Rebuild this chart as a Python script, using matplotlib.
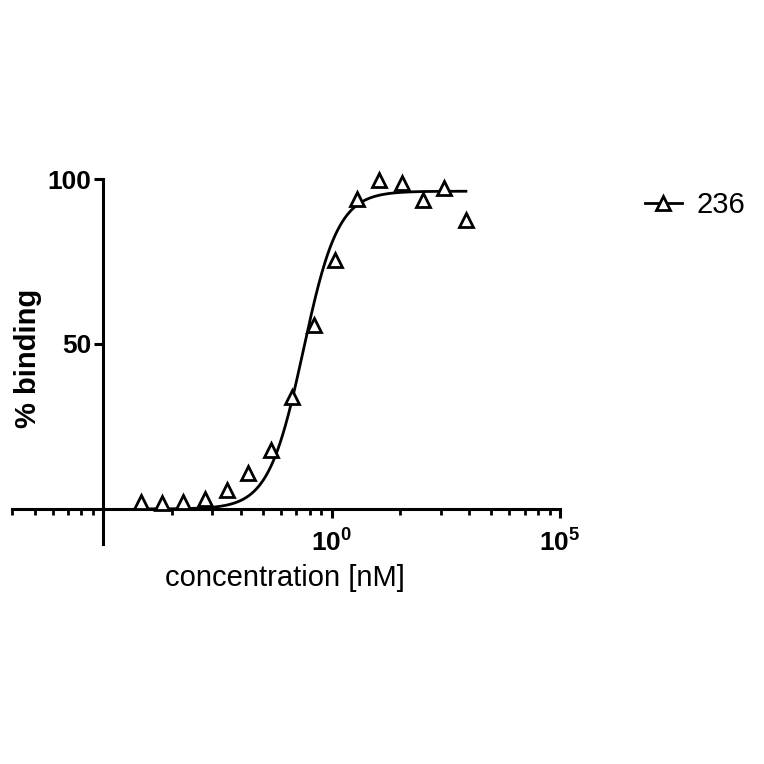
import numpy as np
import matplotlib
matplotlib.use("Agg")
import matplotlib.pyplot as plt
from matplotlib.lines import Line2D
from matplotlib.ticker import FixedLocator, FixedFormatter

plt.rcParams['font.family'] = ['Liberation Sans', 'DejaVu Sans']
plt.rcParams['mathtext.fontset'] = 'custom'
plt.rcParams['mathtext.rm'] = 'Liberation Sans:bold'
plt.rcParams['mathtext.bf'] = 'Liberation Sans:bold'

# concentration in nM, % binding
conc = [6.8e-5, 1.9e-4, 5.5e-4, 1.7e-3, 5.1e-3, 1.45e-2, 4.6e-2, 0.135,
        0.41, 1.2, 3.6, 11.0, 34.0, 100.0, 290.0, 870.0]
binding = [2.2, 1.9, 2.2, 2.9, 5.8, 10.8, 17.9, 34.0,
           55.8, 75.5, 93.8, 99.7, 98.7, 93.6, 97.2, 87.6]
series_name = "236"

# fitted 4PL curve parameters
fit_bottom = 0.0
fit_top = 96.3
fit_logec50 = -0.62
fit_hill = 1.14

logx = np.log10(conc)
xs = np.linspace(logx.min(), logx.max(), 400)
ys = fit_bottom + (fit_top - fit_bottom) / (1 + 10 ** ((fit_logec50 - xs) * fit_hill))

fig = plt.figure(figsize=(7.64, 7.64), dpi=100)
ax = fig.add_axes([0.0157, 0.2885, 0.7173, 0.4772])

mk = dict(marker='^', ms=10, mfc='white', mec='black', mew=2.0)
ax.plot(xs, ys, color='black', lw=2.0, zorder=2)
ax.plot(logx, binding, linestyle='none', zorder=3, clip_on=False, **mk)

ax.set_xlim(-7, 5)
ax.set_ylim(-10.5, 100)

for s in ['top', 'right']:
    ax.spines[s].set_visible(False)
ax.spines['left'].set_position(('data', -5))
ax.spines['bottom'].set_position(('data', 0))
ax.spines['left'].set_linewidth(2.2)
ax.spines['bottom'].set_linewidth(2.2)

# x: log(concentration) on a linear axis, majors every 5 decades, log-style minors
ax.xaxis.set_major_locator(FixedLocator([-5, 0, 5]))
ax.xaxis.set_major_formatter(FixedFormatter(['', r'$10^{0}$', r'$10^{5}$']))
minors = []
for m in [-10, -5, 0]:
    for k in range(2, 10):
        p = m + 5 * np.log10(k)
        if -7 <= p <= 5:
            minors.append(p)
ax.xaxis.set_minor_locator(FixedLocator(minors))
ax.tick_params(axis='x', which='major', length=6.5, width=2.2, labelsize=19, pad=7)
ax.tick_params(axis='x', which='minor', length=4, width=2.0)

ax.yaxis.set_major_locator(FixedLocator([50, 100]))
ax.tick_params(axis='y', which='major', length=6.5, width=2.2, labelsize=19, pad=2)
for lab in ax.get_yticklabels():
    lab.set_fontweight('bold')

fig.text(0.373, 0.2435, "concentration [nM]", fontsize=21, ha='center', va='center')
fig.text(0.0366, 0.5314, "% binding", fontsize=21, fontweight='bold',
         rotation=90, ha='center', va='center')

# legend
handle = Line2D([], [], color='black', lw=2.0, **mk)
fig.legend([handle], [series_name], loc='center left',
           bbox_to_anchor=(0.844, 0.7317), frameon=False, fontsize=21,
           handlelength=1.27, handletextpad=0.5, borderpad=0, borderaxespad=0)

fig.savefig("out.png", dpi=100)
